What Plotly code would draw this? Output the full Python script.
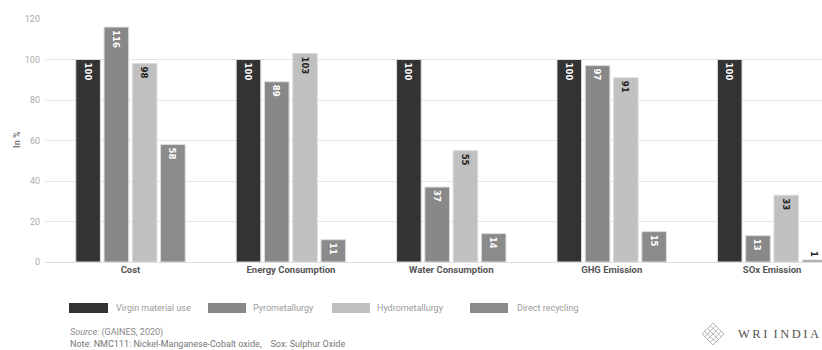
import plotly.graph_objects as go

categories = ["Cost", "Energy Consumption", "Water Consumption", "GHG Emission", "SOx Emission"]
series_names = ["Virgin material use", "Pyrometallurgy", "Hydrometallurgy", "Direct recycling"]
virgin = [100, 100, 100, 100, 100]
pyro = [116, 89, 37, 97, 13]
hydro = [98, 103, 55, 91, 33]
direct = [58, 11, 14, 15, 1]
y_ticks = [0, 20, 40, 60, 80, 100, 120]

colors = ["#333333", "#888888", "#c0c0c0", "#8b8b8b"]
text_colors = ["#ffffff", "#ffffff", "#222222", "#ffffff"]

W, H = 822, 350
L, R, T, B = 45, 822, 19, 262  # plot area in pixels


def px(x):
    return (x - L) / (R - L)


def py(y):
    return (B - y) / (B - T)


label_font = "DejaVu Sans Condensed, Roboto"

fig = go.Figure()
for name, vals, c, tc in zip(series_names, [virgin, pyro, hydro, direct], colors, text_colors):
    fig.add_trace(go.Bar(
        x=categories, y=vals, name=name,
        marker=dict(color=c, line=dict(color="#dcdcdc", width=1)),
        text=[str(v) for v in vals],
        textposition="auto",
        insidetextanchor="end",
        textangle=90,
        constraintext="none",
        insidetextfont=dict(family=label_font, size=9.5, color=tc, weight="bold"),
        outsidetextfont=dict(family=label_font, size=9.5, color="#222222", weight="bold"),
        cliponaxis=True,
        showlegend=False,
    ))

shapes = []
annotations = []

# custom legend
leg = [(69, 108, 114), (208, 246, 251), (332, 370, 375), (470, 508, 515)]
for (x0, x1, tx), name, c in zip(leg, series_names, colors):
    shapes.append(dict(type="rect", xref="paper", yref="paper",
                       x0=px(x0), x1=px(x1), y0=py(313), y1=py(303),
                       fillcolor=c, line=dict(width=0)))
    annotations.append(dict(xref="paper", yref="paper", x=px(tx), y=py(308),
                            text=name, showarrow=False, xanchor="left", yanchor="middle",
                            font=dict(family="Roboto", size=9, color="#9a9a9a")))

# source & note
annotations.append(dict(xref="paper", yref="paper", x=px(68), y=py(332),
                        text="<i>Source:</i> (GAINES, 2020)", showarrow=False,
                        xanchor="left", yanchor="middle",
                        font=dict(family="Roboto", size=9, color="#888888")))
annotations.append(dict(xref="paper", yref="paper", x=px(68), y=py(344),
                        text="Note: NMC111: Nickel-Manganese-Cobalt oxide,    Sox: Sulphur Oxide",
                        showarrow=False, xanchor="left", yanchor="middle",
                        font=dict(family="Roboto", size=9, color="#777777")))

# y-axis title
annotations.append(dict(xref="paper", yref="paper", x=px(17), y=py(140),
                        text="<b>In %</b>", showarrow=False, textangle=-90,
                        xanchor="center", yanchor="middle",
                        font=dict(family="Roboto", size=9, color="#777777")))

# WRI INDIA logo
cx, cy, r = 713, 334, 11
lc = "#b5b5b5"
shapes.append(dict(type="path", xref="paper", yref="paper",
                   path=f"M {px(cx-r)},{py(cy)} L {px(cx)},{py(cy-r)} L {px(cx+r)},{py(cy)} L {px(cx)},{py(cy+r)} Z",
                   line=dict(color=lc, width=1)))
for k in (-0.5, 0.0, 0.5):
    ox, oy = k * r / 2, k * r / 2
    shapes.append(dict(type="line", xref="paper", yref="paper",
                       x0=px(cx - r / 2 + ox), y0=py(cy - r / 2 - oy),
                       x1=px(cx + r / 2 + ox), y1=py(cy + r / 2 - oy),
                       line=dict(color=lc, width=1)))
    shapes.append(dict(type="line", xref="paper", yref="paper",
                       x0=px(cx - r / 2 + ox), y0=py(cy + r / 2 + oy),
                       x1=px(cx + r / 2 + ox), y1=py(cy - r / 2 + oy),
                       line=dict(color=lc, width=1)))
annotations.append(dict(xref="paper", yref="paper", x=px(736), y=py(334),
                        text="W\u2009R\u2009I\u2002I\u2009N\u2009D\u2009I\u2009A", showarrow=False,
                        xanchor="left", yanchor="middle",
                        font=dict(family="Liberation Serif, DejaVu Serif", size=12.5, color="#555555")))

fig.update_layout(
    width=W, height=H,
    margin=dict(l=L, r=W - R, t=T, b=H - B, pad=0),
    paper_bgcolor="white", plot_bgcolor="white",
    barmode="group", bargap=0.295, bargroupgap=0.13,
    showlegend=False,
    shapes=shapes, annotations=annotations,
    xaxis=dict(range=[-0.533, 4.311], showgrid=False, zeroline=False, showline=False,
               ticks="", tickangle=0),
    yaxis=dict(range=[0, 120], tickvals=y_ticks, showgrid=True, gridcolor="#e5e5e5",
               gridwidth=1, zeroline=True, zerolinecolor="#dddddd", zerolinewidth=1,
               showline=False, ticks="", ticklabelstandoff=4,
               tickfont=dict(family="Roboto", size=9, color="#aaaaaa")),
    font=dict(family="Roboto"),
)
fig.update_xaxes(tickfont=dict(family="Roboto", size=9.5, color="#555555", weight="bold"))

fig.write_html("out.html")
